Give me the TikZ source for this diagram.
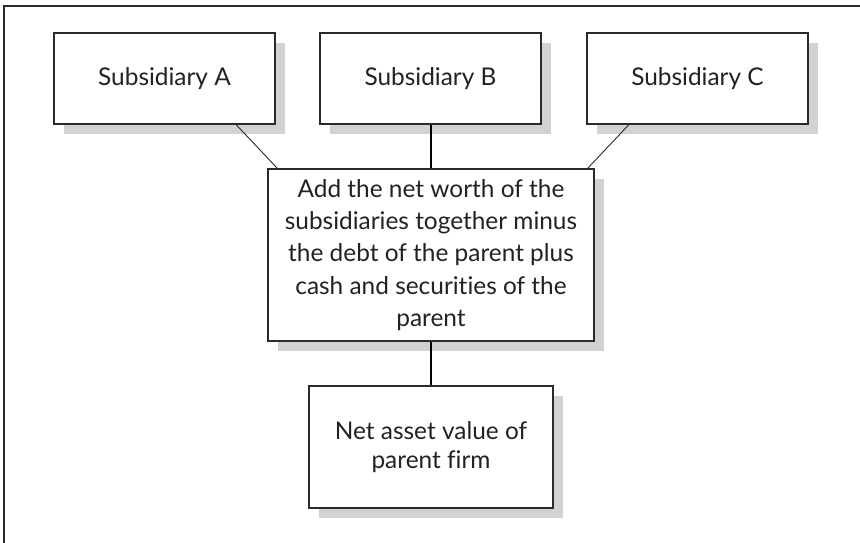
\documentclass[tikz,border=0pt]{standalone}
\usepackage{fontspec}
\setmainfont{Lato}[Ligatures=NoCommon]
\usetikzlibrary{shadows,calc}
\definecolor{shadowgray}{HTML}{D2D2D4}
\definecolor{linegray}{HTML}{2A2A2A}
\definecolor{txt}{HTML}{222222}
\begin{document}
\begin{tikzpicture}[x=1bp,y=-1bp,
  boxnode/.style={draw=linegray, line width=1.1bp, fill=white, rectangle,
    align=center, text=txt, font=\fontsize{24.5}{32.5}\selectfont, inner sep=0pt,
    general shadow={fill=shadowgray, shadow xshift=10bp, shadow yshift=-10bp}},
  thinlink/.style={draw=linegray, line width=0.9bp},
  thicklink/.style={draw=black, line width=2bp}]
\useasboundingbox (0,0) rectangle (860,543);
\fill[white] (0,0) rectangle (860,543);
\draw[draw=linegray, line width=1.5bp] (4,545) -- (4,6) -- (862,6);
\node[boxnode, minimum width=221bp, minimum height=91bp] (A) at (164.5,78.5) {Subsidiary A};
\node[boxnode, minimum width=221bp, minimum height=91bp] (B) at (430.5,78.5) {Subsidiary B};
\node[boxnode, minimum width=221bp, minimum height=91bp] (C) at (697.5,78.5) {Subsidiary C};
\node[boxnode, minimum width=326bp, minimum height=172bp] (M) at (431,255)
  {Add the net worth of the\\ subsidiaries together minus\\ the debt of the parent plus\\ cash and securities of the\\ parent};
\node[boxnode, minimum width=244bp, minimum height=122bp,
  font=\fontsize{24.5}{29}\selectfont] (N) at (431,447)
  {Net asset value of\\ parent firm};
\draw[thinlink] ([xshift=71.5bp]A.south) -- ([xshift=10bp]M.north west);
\draw[thinlink] ([xshift=-68.5bp]C.south) -- ([xshift=-7bp]M.north east);
\draw[thicklink] (B.south) -- (B.south |- M.north);
\draw[thicklink] (M.south) -- (N.north);
\end{tikzpicture}
\end{document}
